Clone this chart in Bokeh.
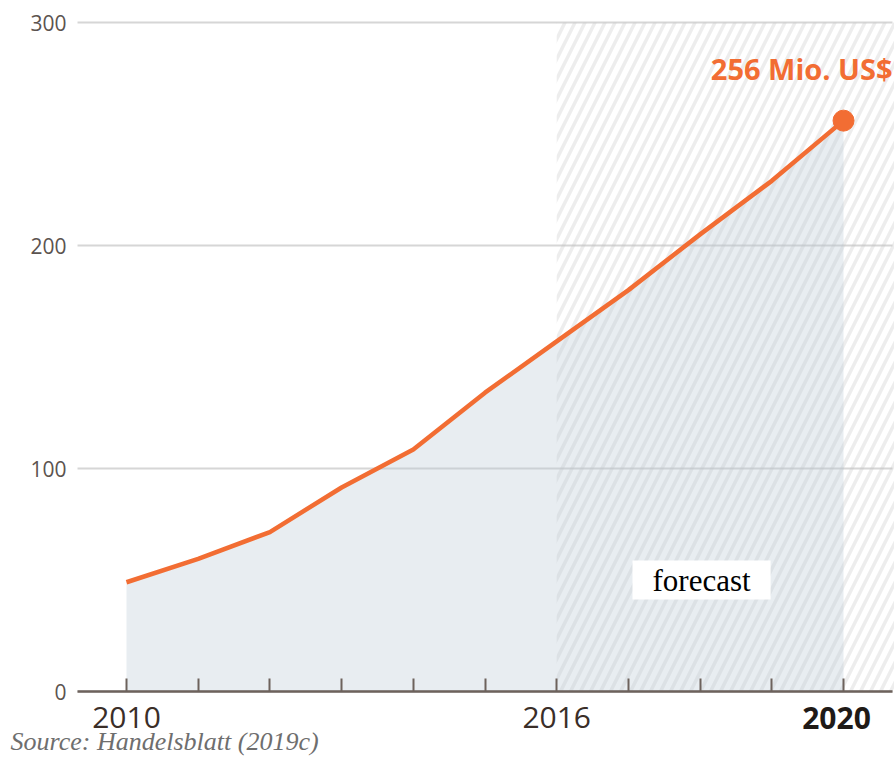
from bokeh.plotting import figure
from bokeh.models import Range1d, FixedTicker, BoxAnnotation, Label
from bokeh.embed import file_html
from bokeh.resources import INLINE

# ---- data ----
years = [2010, 2011, 2012, 2013, 2014, 2015, 2016, 2017, 2018, 2019, 2020]
values = [49, 59.5, 71.5, 91.5, 108.5, 134, 157, 180, 205, 229, 256]
y_ticks = [0, 100, 200, 300]
x_label_years = [2010, 2016]
forecast_start = 2016
forecast_year = 2020
forecast_value = 256
end_label = "256 Mio. US$"
forecast_text = "forecast"
forecast_text_pos = (2018.02, 50)
source_text = "Source: Handelsblatt (2019c)"

# ---- layout constants (data-space extents of the drawing area) ----
X_VIEW = (2008.243, 2020.711)
Y_VIEW = (-30.04, 309.87)
PLOT_X = (2009.317, 2020.683)   # where gridlines / axis line run

ORANGE = "#f26d33"
AXIS = "#6d625c"
FONT = "Open Sans"
X_STANDOFF = 15

p = figure(width=894, height=758, output_backend="svg", toolbar_location=None,
           x_range=Range1d(*X_VIEW), y_range=Range1d(*Y_VIEW),
           min_border_left=0, min_border_top=0, min_border_right=0, min_border_bottom=0,
           background_fill_color="white", border_fill_color="white")
p.outline_line_color = None

# hatched forecast background
box = BoxAnnotation(left=forecast_start, bottom=0, top=y_ticks[-1], fill_alpha=0, line_alpha=0,
                    hatch_pattern="/", hatch_color="#c4c4c4", hatch_alpha=0.3,
                    hatch_weight=3.5, hatch_scale=20, level="underlay")
p.add_layout(box)

# area + line
p.varea(x=years, y1=[0] * len(years), y2=values, fill_color="#b9c9d6", fill_alpha=0.33)
p.line(years, values, line_color=ORANGE, line_width=4.5)
p.scatter([forecast_year], [forecast_value], size=21, color=ORANGE)

# x axis (inside the frame, at y = 0)
xa = p.xaxis[0]
xa.fixed_location = 0
xa.bounds = PLOT_X
xa.ticker = FixedTicker(ticks=years)
xa.major_label_overrides = {y: (str(y) if y in x_label_years else "") for y in years}
xa.axis_line_color = AXIS
xa.axis_line_width = 2.5
xa.major_tick_line_color = AXIS
xa.major_tick_line_width = 2
xa.major_tick_in = 13
xa.major_tick_out = 0
xa.minor_tick_line_color = None
xa.major_label_text_font = FONT
xa.major_label_text_font_size = "30px"
xa.major_label_text_color = "#3a2e28"
xa.major_label_standoff = X_STANDOFF

# y axis (labels only)
ya = p.yaxis[0]
ya.fixed_location = PLOT_X[0]
ya.ticker = FixedTicker(ticks=y_ticks)
ya.axis_line_color = None
ya.major_tick_line_color = None
ya.major_tick_out = 0
ya.major_tick_in = 0
ya.minor_tick_line_color = None
ya.major_label_text_font = FONT
ya.major_label_text_font_size = "21px"
ya.major_label_text_color = "#5b534f"
ya.major_label_standoff = 11

p.xgrid.grid_line_color = None
p.ygrid.grid_line_color = "#d6d6d6"
p.ygrid.grid_line_width = 2
p.ygrid.cross_bounds = PLOT_X

# bold 2020 tick label
p.add_layout(Label(x=forecast_year, y=0, text=str(forecast_year), text_font=FONT,
                   text_font_style="bold", text_font_size="30px", text_color="#1f1a17",
                   text_align="center", text_baseline="top", x_offset=-7, y_offset=-X_STANDOFF))

# end value label
p.add_layout(Label(x=forecast_year, y=forecast_value, text=end_label, text_font=FONT,
                   text_font_style="bold", text_font_size="29px", text_color=ORANGE,
                   text_align="right", text_baseline="middle", x_offset=49, y_offset=52))

# forecast label
p.add_layout(Label(x=forecast_text_pos[0], y=forecast_text_pos[1], text=forecast_text,
                   text_font="Liberation Serif", text_font_size="31px", text_color="black",
                   text_align="center", text_baseline="middle",
                   background_fill_color="white", padding=(20, 2)))

# source note
p.add_layout(Label(x=PLOT_X[0], y=0, text=source_text, text_font="Liberation Serif",
                   text_font_style="italic", text_font_size="26px", text_color="#6e6e6e",
                   text_align="left", text_baseline="alphabetic", x_offset=-67, y_offset=-50))

open("out.html", "w").write(file_html(p, INLINE))
